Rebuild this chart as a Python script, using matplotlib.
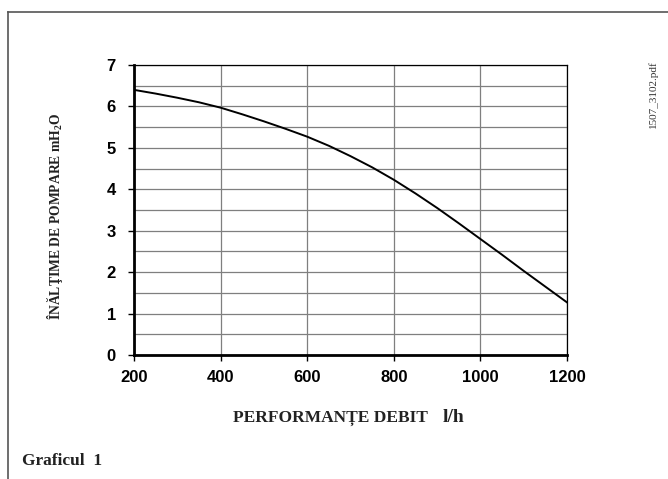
import numpy as np
import matplotlib
matplotlib.use('Agg')
import matplotlib.pyplot as plt
from matplotlib.lines import Line2D

# debit (l/h) vs inaltime de pompare (mH2O)
flow = [200, 250, 300, 350, 400, 450, 500, 550, 600, 650, 700,
        750, 800, 850, 900, 950, 1000, 1050, 1100, 1150, 1200]
head = [6.40, 6.31, 6.21, 6.10, 5.97, 5.81, 5.64, 5.46, 5.27, 5.05, 4.80,
        4.53, 4.23, 3.90, 3.55, 3.18, 2.80, 2.42, 2.03, 1.65, 1.27]
xticks = [200, 400, 600, 800, 1000, 1200]
yticks = [0, 1, 2, 3, 4, 5, 6, 7]

serif = 'Liberation Serif'
sans = 'Liberation Sans'

fig = plt.figure(figsize=(6.68, 4.79), dpi=100)
ax = fig.add_axes([134/668, 1 - 355/479, 433/668, 290/479])

ax.plot(flow, head, color='black', lw=1.4, zorder=3)

ax.set_xlim(200, 1200)
ax.set_ylim(0, 7)
ax.set_xticks(xticks)
ax.set_yticks(yticks)
ax.set_yticks(np.arange(0, 7.5, 0.5), minor=True)
ax.grid(True, which='major', color='#7f7f7f', lw=0.9)
ax.grid(True, which='minor', axis='y', color='#7f7f7f', lw=0.9)
ax.tick_params(which='minor', length=0)
ax.tick_params(which='major', direction='out', length=4, width=1, color='black')
ax.tick_params(axis='x', pad=7)
ax.tick_params(axis='y', pad=9)
for lab in ax.get_xticklabels() + ax.get_yticklabels():
    lab.set_fontfamily(sans)
    lab.set_fontweight('bold')
    lab.set_fontsize(12)

for s in ['left', 'bottom']:
    ax.spines[s].set_linewidth(2)
for s in ['top', 'right']:
    ax.spines[s].set_linewidth(0.9)

fig.text(55/668, 1 - 216/479, r'ÎNĂLŢIME DE POMPARE mH$_\mathregular{2}$O',
         rotation=90, ha='center', va='center', family=serif,
         fontweight='bold', fontsize=9.8, color='#222222')
fig.text(233/668, 1 - 418/479, 'PERFORMANȚE DEBIT',
         ha='left', va='center', family=serif, fontweight='bold',
         fontsize=12.5, color='#222222')
fig.text(443/668, 1 - 417/479, 'l/h',
         ha='left', va='center', family=serif, fontweight='bold',
         fontsize=14, color='#222222')
fig.text(22/668, 1 - 461/479, 'Graficul  1', ha='left', va='center',
         family=serif, fontweight='bold', fontsize=12.5, color='#222222')
fig.text(653/668, 1 - 94/479, '1507_3102.pdf', rotation=90,
         ha='center', va='center', family=serif, fontsize=8,
         color='#333333')

# outer frame (top and left edges only visible)
fig.add_artist(Line2D([8/668, 8/668], [0, 1 - 12/479], color='#555555', lw=1.2))
fig.add_artist(Line2D([8/668, 1], [1 - 12/479, 1 - 12/479], color='#555555', lw=1.2))

fig.savefig('out.png', dpi=100)
